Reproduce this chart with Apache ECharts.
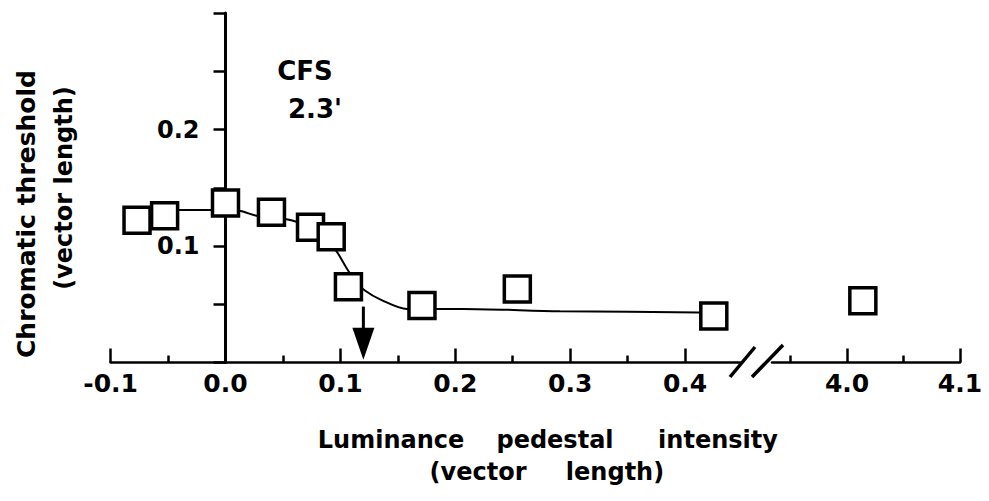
<!DOCTYPE html>
<html>
<head>
<meta charset="utf-8">
<script src="https://cdn.jsdelivr.net/npm/echarts@6/dist/echarts.min.js"></script>
<style>
html,body{margin:0;padding:0;background:#fff;}
#chart{width:989px;height:501px;}
</style>
</head>
<body>
<div id="chart"></div>
<script>
// ---- data ----
const pedestalLeft  = [-0.077, -0.053, 0.0, 0.040, 0.074, 0.092, 0.107, 0.171, 0.254, 0.425];
const thresholdLeft = [0.122, 0.126, 0.137, 0.129, 0.116, 0.108, 0.065, 0.049, 0.063, 0.040];
const pedestalRight  = [4.014];
const thresholdRight = [0.053];

// fitted curve
const fitX = [-0.077, -0.053, -0.041, -0.016, 0.0, 0.013, 0.027, 0.040, 0.053, 0.061, 0.074, 0.088, 0.097, 0.106, 0.113, 0.121, 0.135, 0.158, 0.183, 0.207, 0.291, 0.412, 0.425];
const fitY = [0.125, 0.130, 0.131, 0.131, 0.131, 0.130, 0.126, 0.125, 0.123, 0.121, 0.116, 0.106, 0.095, 0.080, 0.070, 0.062, 0.054, 0.046, 0.046, 0.046, 0.044, 0.043, 0.042];

// arrow marking the knee of the curve
const arrowX = [0.120];
const arrowShaftY = [0.048, 0.028];
const arrowHeadY = [0.016];

// tick values
const xMajorLeft  = [-0.1, 0.0, 0.1, 0.2, 0.3, 0.4];
const xMinorLeft  = [-0.05, 0.05, 0.15, 0.25, 0.35];
const xMajorRight = [4.0, 4.1];
const xMinorRight = [3.95, 4.05];
const yLabelValues = [0.1, 0.2];

const xLeftRange  = [-0.1, 0.4478];
const xRightRange = [3.9336, 4.1];
const yRange = [0, 0.3];

// ---- chart ----
const chart = echarts.init(document.getElementById('chart'), null, {renderer: 'svg'});
const BLACK = '#000';
const tickFont = {fontFamily: 'DejaVu Sans', fontWeight: 'bold', fontSize: 25, color: BLACK};
const fmt = v => Number(v).toFixed(1);

const gridLeft  = {left: 110.6, right: 249, top: 13, bottom: 138.5};
const gridRight = {left: 772, right: 29, top: 13, bottom: 138.5};
// y axis sits at x = 0 of the left axis: shift from the grid edge by 0.1 units
const yAxisShift = -(0.1 / (xLeftRange[1] - xLeftRange[0])) * (989 - gridLeft.left - gridLeft.right);

function mainX(gridIndex, range, majors) {
  return {
    type: 'value', gridIndex, min: range[0], max: range[1],
    axisLine: {show: true, onZero: false, lineStyle: {color: BLACK, width: 2.5}},
    axisTick: {show: true, inside: true, length: 14, customValues: majors, lineStyle: {color: BLACK, width: 2.5}},
    axisLabel: Object.assign({show: true, customValues: majors, formatter: fmt, margin: 8}, tickFont),
    splitLine: {show: false}
  };
}
function minorX(gridIndex, range, minors) {
  return {
    type: 'value', gridIndex, min: range[0], max: range[1],
    axisLine: {show: false, onZero: false},
    axisTick: {show: true, inside: true, length: 7, customValues: minors, lineStyle: {color: BLACK, width: 2.5}},
    axisLabel: {show: false},
    splitLine: {show: false}
  };
}
function hiddenY(gridIndex) {
  return {type: 'value', gridIndex, min: yRange[0], max: yRange[1], show: false, splitLine: {show: false}};
}

const titleFont = 'bold 24px "DejaVu Sans"';
function txt(text, x, y, font, rot) {
  return {
    type: 'text', x, y, rotation: rot || 0, z: 10,
    style: {text, font, fill: BLACK, align: 'center', verticalAlign: 'middle', textAlign: 'center', textVerticalAlign: 'middle'}
  };
}

const squareStyle = {color: '#fff', borderColor: BLACK, borderWidth: 3.5, opacity: 1};

chart.setOption({
  animation: false,
  backgroundColor: '#fff',
  grid: [gridLeft, gridRight, gridLeft, gridRight],
  xAxis: [
    mainX(0, xLeftRange, xMajorLeft),
    mainX(1, xRightRange, xMajorRight),
    minorX(2, xLeftRange, xMinorLeft),
    minorX(3, xRightRange, xMinorRight)
  ],
  yAxis: [
    {
      type: 'value', gridIndex: 0, min: yRange[0], max: yRange[1], interval: 0.05,
      position: 'left', offset: yAxisShift,
      axisLine: {show: true, onZero: false, lineStyle: {color: BLACK, width: 3}},
      axisTick: {show: true, inside: false, length: 12, lineStyle: {color: BLACK, width: 2.5}},
      axisLabel: Object.assign({show: true, customValues: yLabelValues, formatter: fmt, margin: 26}, tickFont, {fontSize: 24}),
      splitLine: {show: false}
    },
    hiddenY(1), hiddenY(2), hiddenY(3)
  ],
  series: [
    {
      type: 'line', xAxisIndex: 0, yAxisIndex: 0, z: 2,
      data: fitX.map((x, i) => [x, fitY[i]]),
      symbol: 'none', smooth: 0.3,
      lineStyle: {color: BLACK, width: 2}
    },
    {
      type: 'line', xAxisIndex: 0, yAxisIndex: 0, z: 2,
      data: arrowShaftY.map(y => [arrowX[0], y]),
      symbol: 'none',
      lineStyle: {color: BLACK, width: 3}
    },
    {
      type: 'scatter', xAxisIndex: 0, yAxisIndex: 0, z: 2,
      data: arrowHeadY.map(y => [arrowX[0], y]),
      symbol: 'triangle', symbolRotate: 180, symbolSize: [22, 32],
      itemStyle: {color: BLACK, opacity: 1}
    },
    {
      type: 'scatter', xAxisIndex: 0, yAxisIndex: 0, z: 3,
      data: pedestalLeft.map((x, i) => [x, thresholdLeft[i]]),
      symbol: 'rect', symbolSize: 26,
      itemStyle: squareStyle
    },
    {
      type: 'scatter', xAxisIndex: 1, yAxisIndex: 1, z: 3,
      data: pedestalRight.map((x, i) => [x, thresholdRight[i]]),
      symbol: 'rect', symbolSize: 26,
      itemStyle: squareStyle
    }
  ],
  graphic: [
    // axis break marks
    {type: 'line', shape: {x1: 730, y1: 377, x2: 755, y2: 347}, style: {stroke: BLACK, lineWidth: 3.5}},
    {type: 'line', shape: {x1: 752, y1: 377, x2: 783, y2: 345}, style: {stroke: BLACK, lineWidth: 3.5}},
    // annotations
    txt('Chromatic threshold', 26, 214, 'bold 25px "DejaVu Sans"', Math.PI / 2),
    txt('(vector length)', 64, 188, 'bold 24px "DejaVu Sans"', Math.PI / 2),
    txt('CFS', 305, 71, 'bold 26px "DejaVu Sans"'),
    txt("2.3'", 315, 109, 'bold 26px "DejaVu Sans"'),
    txt('Luminance', 391, 440, titleFont),
    txt('pedestal', 555, 440, titleFont),
    txt('intensity', 718, 440, titleFont),
    txt('(vector', 478, 472, titleFont),
    txt('length)', 615, 472, titleFont)
  ]
});
</script>
</body>
</html>
